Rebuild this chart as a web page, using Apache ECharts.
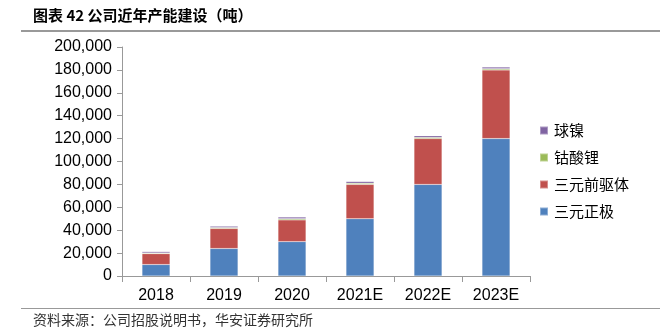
<!DOCTYPE html>
<html><head><meta charset="utf-8">
<script src="https://cdn.jsdelivr.net/npm/echarts@6/dist/echarts.min.js"></script>
<style>html,body{margin:0;padding:0;background:#fff}#c{width:667px;height:334px}</style>
</head><body><div id="c"></div>
<script>
const categories = ['2018','2019','2020','2021E','2022E','2023E'];
const cathode = [10000, 24000, 30000, 50000, 80000, 120000];      // 三元正极
const precursor = [9500, 17500, 19000, 30000, 40000, 60000];      // 三元前驱体
const licoo2 = [600, 800, 1000, 1000, 1000, 1000];                // 钴酸锂
const nickel = [1200, 1200, 1500, 1500, 1500, 1500];              // 球镍

const font = '"Liberation Sans", Arial, sans-serif';
const cjk = '"Noto Sans CJK SC", sans-serif';
const chart = echarts.init(document.getElementById('c'), null, {renderer:'canvas'});
const mk = (name, data, color) => ({
  name, type:'bar', stack:'s', data, barWidth:28,
  itemStyle:{color, borderColor:'rgba(255,255,255,0.35)', borderWidth:0.5},
  emphasis:{disabled:true}
});
chart.setOption({
  animation:false,
  grid:{left:122, right:137, top:47, bottom:58},
  legend:{
    orient:'vertical', left:534, top:118, itemWidth:8, itemHeight:8, itemGap:12,
    icon:'rect',
    data:['球镍','钴酸锂','三元前驱体','三元正极'],
    textStyle:{fontFamily:cjk, fontSize:15, color:'#000', padding:[0,0,0,1]}
  },
  xAxis:{
    type:'category', data:categories,
    axisLine:{lineStyle:{color:'#999', width:1}},
    axisTick:{show:true, length:6, lineStyle:{color:'#999'}},
    axisLabel:{fontFamily:font, fontSize:16, color:'#000', margin:12}
  },
  yAxis:{
    type:'value', min:0, max:200000, interval:20000,
    axisLine:{show:true, lineStyle:{color:'#999'}},
    axisTick:{show:true, length:5, lineStyle:{color:'#999'}},
    splitLine:{show:false},
    axisLabel:{fontFamily:font, fontSize:16, color:'#000', margin:10,
      formatter:v => v.toLocaleString('en-US')}
  },
  series:[
    mk('三元正极', cathode, '#4F81BD'),
    mk('三元前驱体', precursor, '#C0504D'),
    mk('钴酸锂', licoo2, '#9BBB59'),
    mk('球镍', nickel, '#8064A2')
  ],
  graphic:[
    {type:'text', left:33, top:8, style:{text:'图表 42 公司近年产能建设（吨）', font:'bold 15px '+cjk, fill:'#000'}},
    {type:'rect', shape:{x:21, y:30, width:639, height:2}, style:{fill:'#999'}},
    {type:'rect', shape:{x:21, y:308, width:639, height:1}, style:{fill:'#999'}},
    {type:'text', left:33, top:313, style:{text:'资料来源：公司招股说明书，华安证券研究所', font:'14px '+cjk, fill:'#333'}}
  ]
});
</script></body></html>
